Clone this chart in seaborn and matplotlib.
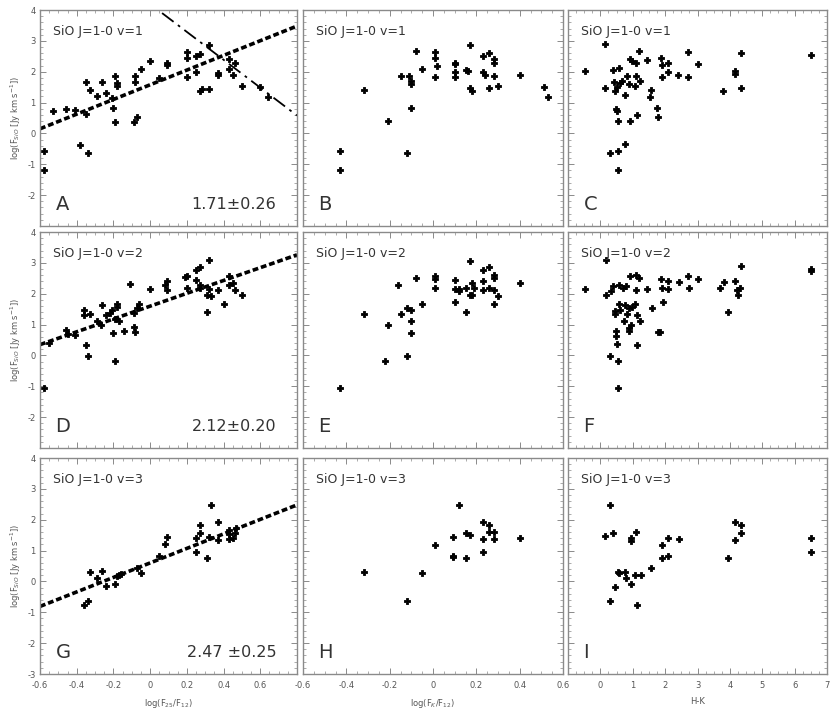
import matplotlib
matplotlib.use("Agg")
import matplotlib.pyplot as plt
import seaborn as sns
import pandas as pd
import numpy as np
from matplotlib.ticker import MultipleLocator

sns.set_style("ticks")
plt.rcParams['font.family'] = ['DejaVu Sans']

# panel A: log(F25/F12) vs log F(SiO) v=1
a_x = [-0.58, -0.58, -0.53, -0.46, -0.41, -0.38, -0.35, -0.35, -0.34, -0.33, -0.29, -0.26,
       -0.24, -0.21, -0.20, -0.19, -0.19, -0.18, -0.18, -0.09, -0.08, -0.08, -0.07, -0.05,
       0.00, 0.05, 0.09, 0.09, 0.20, 0.20, 0.20, 0.25, 0.25, 0.27, 0.27, 0.28, 0.32, 0.32,
       0.37, 0.37, 0.43, 0.43, 0.45, 0.46, 0.50, 0.60, 0.64]
a_y = [-0.58, -1.18, 0.73, 0.78, 0.75, -0.37, 1.67, 0.62, -0.65, 1.40, 1.22, 1.68,
       1.32, 1.16, 0.82, 0.38, 1.86, 1.65, 1.54, 0.38, 1.86, 1.67, 0.54, 2.08,
       2.34, 1.81, 2.22, 2.29, 2.43, 2.65, 1.83, 2.51, 2.00, 2.56, 1.38, 1.43, 2.88, 1.45,
       1.97, 1.89, 2.40, 2.08, 1.89, 2.29, 1.54, 1.51, 1.18]

# panel B: log(FK/F12) vs log F(SiO) v=1
b_x = [-0.43, -0.43, -0.32, -0.21, -0.15, -0.12, -0.11, -0.10, -0.10, -0.10, -0.08, -0.05,
       0.01, 0.01, 0.02, 0.01, 0.10, 0.10, 0.10, 0.10, 0.15, 0.16, 0.17, 0.17, 0.18,
       0.23, 0.23, 0.24, 0.26, 0.26, 0.28, 0.28, 0.28, 0.30, 0.40, 0.51, 0.53]
b_y = [-0.58, -1.18, 1.40, 0.41, 1.86, -0.65, 1.86, 1.70, 1.59, 0.84, 2.67, 2.10,
       2.65, 2.45, 2.20, 1.83, 2.29, 2.24, 1.99, 1.83, 2.04, 2.02, 2.88, 1.48, 1.38,
       2.51, 2.00, 1.89, 2.61, 1.48, 2.40, 2.29, 1.86, 1.54, 1.89, 1.51, 1.18]

# panel C: H-K vs log F(SiO) v=1
c_x = [-0.49, 0.15, 0.15, 0.31, 0.38, 0.43, 0.44, 0.49, 0.51, 0.53, 0.53, 0.53, 0.56, 0.51,
       0.62, 0.67, 0.75, 0.77, 0.82, 0.89, 0.92, 0.92, 0.97, 1.06, 1.10, 1.11, 1.13, 1.18,
       1.23, 1.44, 1.52, 1.57, 1.74, 1.79, 1.88, 1.90, 1.90, 2.08, 2.08, 2.41, 2.72, 2.72,
       3.03, 3.79, 4.17, 4.17, 4.33, 4.33, 6.51]
c_y = [2.02, 2.90, 1.46, -0.65, 2.05, 1.67, 1.38, 0.78, 0.73, 0.41, -0.58, -1.18, 2.13, 1.51,
       1.65, 1.70, -0.34, 1.24, 1.86, 1.61, 2.40, 0.39, 2.34, 1.54, 1.86, 2.29, 0.60, 2.67,
       1.70, 2.37, 1.19, 1.41, 0.84, 0.54, 2.45, 2.22, 1.83, 2.29, 2.00, 1.89, 2.65, 1.83,
       2.24, 1.38, 2.02, 1.91, 2.61, 1.48, 2.53]

# panel D: v=2
d_x = [-0.58, -0.55, -0.46, -0.45, -0.41, -0.36, -0.36, -0.35, -0.34, -0.33, -0.29, -0.27,
       -0.26, -0.24, -0.22, -0.21, -0.20, -0.19, -0.19, -0.18, -0.18, -0.17, -0.14, -0.11,
       -0.09, -0.09, -0.08, -0.07, -0.06, 0.00, 0.08, 0.09, 0.09, 0.19, 0.20, 0.20, 0.25,
       0.25, 0.27, 0.27, 0.27, 0.31, 0.31, 0.32, 0.32, 0.33, 0.37, 0.40, 0.43, 0.43, 0.45,
       0.46, 0.50]
d_y = [-1.04, 0.40, 0.81, 0.70, 0.66, 1.48, 1.30, 0.35, -0.02, 1.34, 1.13, 1.00,
       1.65, 1.30, 1.38, 1.48, 0.73, -0.18, 1.19, 1.56, 1.67, 1.13, 0.78, 2.31,
       0.91, 1.38, 0.76, 1.54, 1.67, 2.16, 2.27, 2.13, 2.40, 2.53, 2.56, 2.20, 2.77,
       2.45, 2.85, 2.29, 2.20, 1.41, 1.97, 3.10, 2.16, 1.91, 2.13, 1.67, 2.56, 2.27, 2.34,
       2.13, 1.97]

# panel E
e_x = [-0.43, -0.32, -0.22, -0.21, -0.16, -0.15, -0.12, -0.12, -0.10, -0.10, -0.10, -0.08,
       -0.05, 0.01, 0.01, 0.01, 0.10, 0.10, 0.10, 0.12, 0.12, 0.15, 0.15, 0.17, 0.17, 0.18,
       0.18, 0.19, 0.23, 0.23, 0.23, 0.26, 0.26, 0.28, 0.28, 0.28, 0.28, 0.30, 0.40]
e_y = [-1.06, 1.34, -0.18, 1.00, 2.29, 1.34, -0.02, 1.54, 1.48, 1.11, 0.73, 2.51,
       1.67, 2.56, 2.48, 2.20, 2.45, 2.16, 1.73, 2.15, 2.08, 2.18, 1.41, 3.06, 1.95, 2.34,
       1.95, 2.20, 2.77, 2.40, 2.13, 2.88, 2.20, 2.61, 2.51, 2.13, 1.67, 1.91, 2.34]

# panel F
f_x = [-0.48, 0.17, 0.17, 0.31, 0.34, 0.38, 0.44, 0.46, 0.49, 0.49, 0.51, 0.54, 0.54, 0.56,
       0.58, 0.62, 0.69, 0.72, 0.75, 0.79, 0.82, 0.87, 0.87, 0.89, 0.92, 0.95, 0.97, 1.06,
       1.10, 1.11, 1.13, 1.13, 1.18, 1.23, 1.44, 1.59, 1.79, 1.85, 1.88, 1.90, 1.92, 2.10,
       2.10, 2.43, 2.72, 2.74, 3.03, 3.71, 3.83, 3.95, 4.17, 4.21, 4.24, 4.31, 4.34, 6.51,
       6.51]
f_y = [2.15, 3.08, 1.95, -0.02, 2.08, 2.24, 1.45, 1.34, 0.78, 0.62, 0.38, -0.18, -1.06, 2.29,
       1.67, 1.48, 2.18, 1.13, 1.65, 2.24, 1.34, 0.89, 1.54, 0.78, 2.56, 1.00, 1.56, 1.67,
       2.61, 2.13, 0.35, 1.30, 2.51, 1.13, 2.15, 1.54, 0.76, 0.76, 2.48, 2.20, 1.73, 2.42,
       2.16, 2.37, 2.58, 2.20, 2.48, 2.18, 2.38, 1.41, 2.40, 2.13, 1.97, 2.20, 2.91, 2.81,
       2.74]

# panel G: v=3
g_x = [-0.36, -0.34, -0.33, -0.29, -0.26, -0.24, -0.19, -0.18, -0.17, -0.16, -0.07, -0.05,
       0.05, 0.08, 0.09, 0.25, 0.25, 0.27, 0.27, 0.31, 0.32, 0.33, 0.37, 0.37, 0.43, 0.43,
       0.45, 0.46, 0.47, 0.43]
g_y = [-0.77, -0.62, 0.32, 0.11, 0.34, -0.16, -0.08, 0.18, 0.22, 0.25, 0.43, 0.27,
       0.81, 1.22, 1.43, 0.94, 1.40, 1.83, 1.58, 0.75, 1.43, 2.49, 1.94, 1.34, 1.67, 1.37,
       1.40, 1.58, 1.72, 1.54]

# panel H
h_x = [-0.32, -0.12, -0.05, 0.01, 0.09, 0.09, 0.09, 0.12, 0.15, 0.17, 0.15, 0.23, 0.23,
       0.23, 0.26, 0.26, 0.28, 0.28, 0.40]
h_y = [0.30, -0.62, 0.27, 1.18, 1.43, 0.83, 0.78, 2.49, 1.56, 1.51, 0.75, 1.94, 1.38,
       0.94, 1.83, 1.61, 1.61, 1.37, 1.40]

# panel I
i_x = [0.15, 0.31, 0.31, 0.39, 0.44, 0.53, 0.58, 0.75, 0.79, 0.95, 0.95, 0.95, 1.06, 1.11,
       1.13, 1.25, 1.57, 1.90, 1.90, 2.10, 2.10, 2.43, 3.95, 4.17, 4.17, 4.33, 4.33, 6.51,
       6.51]
i_y = [1.48, 2.47, -0.62, 1.56, -0.18, 0.29, 0.27, 0.32, 0.11, 1.40, 1.32, -0.08, 0.20, 1.59,
       -0.77, 0.20, 0.45, 1.18, 0.77, 1.42, 0.84, 1.38, 0.75, 1.94, 1.34, 1.83, 1.58, 1.40,
       0.94]

# fitted lines (end points)
fit_x = [-0.6, 0.8]
fit_a = [0.15, 3.48]
fit_d = [0.35, 3.26]
fit_g = [-0.81, 2.48]
cut_x = [0.065, 0.8]
cut_y = [3.9, 0.58]

slopes = ["1.71±0.26", "2.12±0.20", "2.47 ±0.25"]
letters = ["A", "B", "C", "D", "E", "F", "G", "H", "I"]
titles = ["SiO J=1-0 v=1", "SiO J=1-0 v=2", "SiO J=1-0 v=3"]
xlabels = [r"log(F$_{25}$/F$_{12}$)", r"log(F$_{K}$/F$_{12}$)", "H-K"]
ylabel = r"log(F$_{SiO}$ [Jy km s$^{-1}$])"

data = [[(a_x, a_y), (b_x, b_y), (c_x, c_y)],
        [(d_x, d_y), (e_x, e_y), (f_x, f_y)],
        [(g_x, g_y), (h_x, h_y), (i_x, i_y)]]
fits = [fit_a, fit_d, fit_g]

W, H = 830, 714
fig = plt.figure(figsize=(W / 100, H / 100), dpi=100)
col_left = [40, 303, 568]
col_w = [257, 260, 259]
row_top = [10, 232, 458]
row_h = 216

grey = "#8a8a8a"
txt = "#333333"
xlims = [(-0.6, 0.8), (-0.6, 0.6), (-1, 7)]

for r in range(3):
    for c in range(3):
        ax = fig.add_axes([col_left[c] / W, 1 - (row_top[r] + row_h) / H,
                           col_w[c] / W, row_h / H])
        x, y = data[r][c]
        df = pd.DataFrame({"x": x, "y": y})
        sns.scatterplot(data=df, x="x", y="y", ax=ax, marker="P", s=17,
                        color="black", edgecolor="black", linewidth=0.6)
        if c == 0:
            sns.lineplot(x=fit_x, y=fits[r], ax=ax, color="black", lw=2.6,
                         linestyle=(0, (1.6, 0.8)))
            ax.text(0.92, 0.10, slopes[r], transform=ax.transAxes, ha="right",
                    va="center", fontsize=11.5, color=txt)
            if r == 0:
                sns.lineplot(x=cut_x, y=cut_y, ax=ax, color="black", lw=1.3,
                             linestyle=(0, (8, 3, 1.5, 3)))
        ax.set_xlim(*xlims[c])
        ax.set_ylim(-3, 4)
        ax.text(0.05, 0.90, titles[r], transform=ax.transAxes, ha="left",
                va="center", fontsize=9, color=txt)
        ax.text(0.06, 0.10, letters[r * 3 + c], transform=ax.transAxes,
                ha="left", va="center", fontsize=14, color=txt)

        # ticks
        ax.set_yticks(range(-3, 5))
        ax.yaxis.set_minor_locator(MultipleLocator(0.2))
        if c == 0:
            ax.set_xticks(np.arange(-0.6, 0.81, 0.2))
            ax.xaxis.set_minor_locator(MultipleLocator(0.05))
        elif c == 1:
            ax.set_xticks(np.arange(-0.6, 0.61, 0.2))
            ax.xaxis.set_minor_locator(MultipleLocator(0.05))
        else:
            ax.set_xticks(range(-1, 8))
            ax.xaxis.set_minor_locator(MultipleLocator(0.25))
        ax.tick_params(which="both", direction="in", top=True, right=True,
                       color=grey, labelcolor="#555555", labelsize=6)
        ax.tick_params(axis="y", pad=3)
        ax.tick_params(axis="x", pad=5)
        ax.tick_params(which="major", length=4, width=0.7)
        ax.tick_params(which="minor", length=2, width=0.5)

        if c == 0:
            ylabs = [str(v) for v in range(-3, 5)]
            if r < 2:
                ylabs[0] = ""
            ax.set_yticklabels(ylabs)
            ax.set_ylabel(ylabel, fontsize=6, color="#555555", labelpad=3)
        else:
            ax.set_yticklabels([])
            ax.set_ylabel("")

        if r == 2:
            if c < 2:
                locs = np.round(ax.get_xticks(), 1)
                labs = [("%g" % v) if v <= 0.61 else "" for v in locs]
            else:
                labs = [""] + [str(v) for v in range(0, 8)]
            ax.set_xticklabels(labs)
            ax.set_xlabel(xlabels[c], fontsize=6, color="#555555", labelpad=5)
        else:
            ax.set_xticklabels([])
            ax.set_xlabel("")

        for sp in ax.spines.values():
            sp.set_color(grey)
            sp.set_linewidth(1.0)

fig.savefig("out.png", dpi=100, facecolor="white")
